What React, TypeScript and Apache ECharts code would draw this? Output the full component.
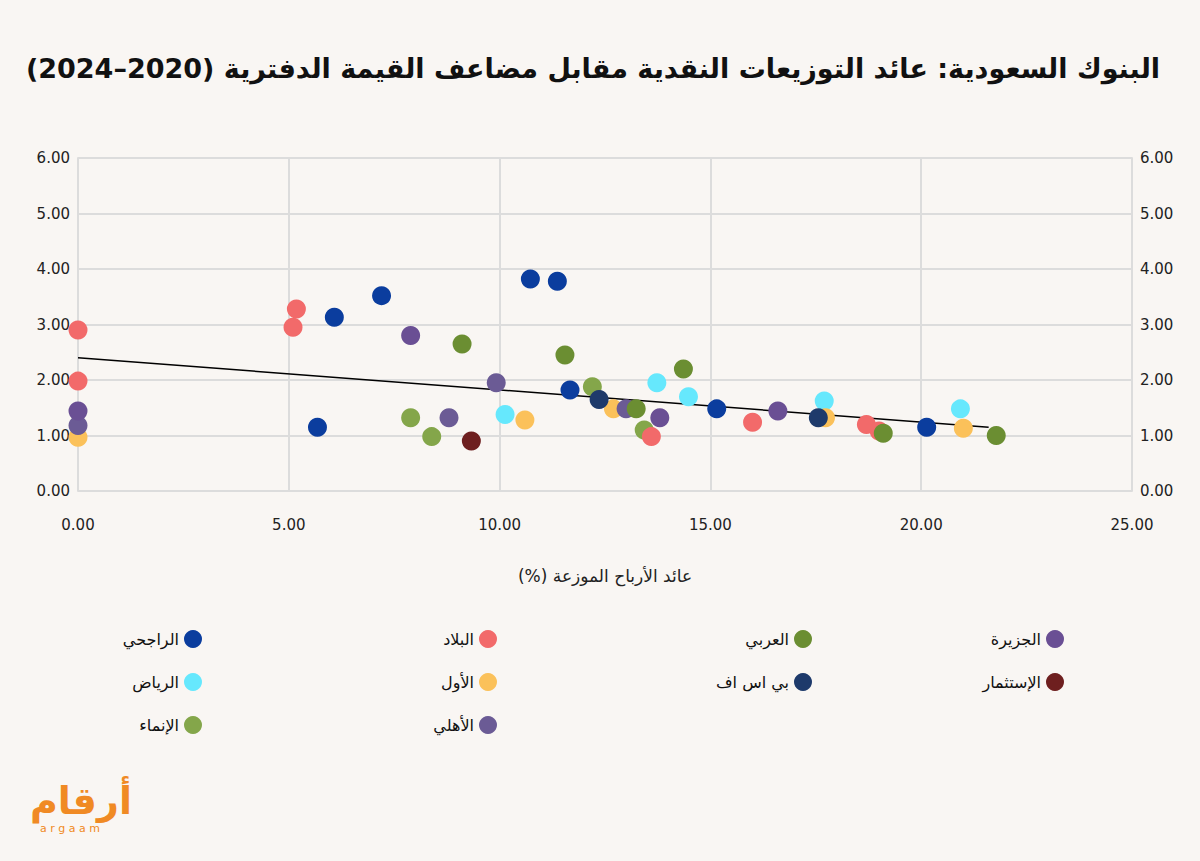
import React, { useEffect, useRef } from "react";
import * as echarts from "echarts";

const banks = ["الراجحي", "الرياض", "الإنماء", "البلاد", "الأول", "الأهلي", "العربي", "بي اس اف", "الجزيرة", "الإستثمار"];
const colors = ["#0b3d9e", "#66e8fd", "#84a64a", "#f26a6a", "#fbc15a", "#6b5b95", "#6b8e32", "#1e3a6b", "#6a4f94", "#6e1f1f"];

// [dividend yield %, price to book]
const rajhi = [[5.68, 1.15], [6.08, 3.13], [7.2, 3.52], [10.73, 3.82], [11.37, 3.78], [11.67, 1.82], [15.15, 1.48], [20.13, 1.15]];
const riyad = [[10.13, 1.38], [13.73, 1.95], [14.48, 1.7], [17.7, 1.62], [20.93, 1.48]];
const inma = [[7.89, 1.32], [8.39, 0.98], [12.2, 1.88], [13.43, 1.1]];
const bilad = [[0, 2.9], [0, 1.98], [5.18, 3.28], [5.1, 2.95], [13.6, 0.98], [16.0, 1.24], [18.7, 1.2], [19.0, 1.08]];
const awwal = [[0, 0.97], [10.6, 1.28], [12.7, 1.48], [17.73, 1.32], [21.0, 1.13]];
const ahli = [[0, 1.18], [8.8, 1.32], [9.92, 1.95], [13.0, 1.48]];
const arabi = [[9.11, 2.65], [11.55, 2.45], [14.36, 2.2], [13.24, 1.48], [19.1, 1.04], [21.78, 1.0]];
const bsf = [[12.36, 1.65], [17.56, 1.32]];
const jazira = [[0, 1.44], [7.89, 2.8], [16.6, 1.44], [13.8, 1.32]];
const istithmar = [[9.33, 0.9]];
const seriesData = [rajhi, riyad, inma, bilad, awwal, ahli, arabi, bsf, jazira, istithmar];

const trend = [[0, 2.4], [21.6, 1.15]];

const legendColumns = [[0, 1, 2], [3, 4, 5], [6, 7], [8, 9]];
const legendRight = [993, 698, 383, 131];

const font = "'DejaVu Sans', 'Noto Sans', sans-serif";
const rlm = "\u200F";

const App: React.FC = () => {
  const chartRef = useRef<HTMLDivElement | null>(null);

  useEffect(() => {
    if (!chartRef.current) return;
    document.body.style.margin = "0";
    const chart = echarts.init(chartRef.current, null, { renderer: "svg" });
    const fmt = (v: number) => v.toFixed(2);
    const axisLabel = { color: "#222", fontSize: 15, fontFamily: font, formatter: fmt };

    chart.setOption({
      animation: false,
      backgroundColor: "#f9f6f3",
      textStyle: { fontFamily: font },
      title: {
        text: rlm + "البنوك السعودية: عائد التوزيعات النقدية مقابل مضاعف القيمة الدفترية (2020–2024)" + rlm,
        right: 35,
        top: 50,
        textStyle: { fontSize: 27, fontWeight: "bold", color: "#111", fontFamily: font },
      },
      legend: legendColumns.map((col, i) => ({
        orient: "vertical",
        right: legendRight[i],
        top: 625,
        align: "right",
        itemWidth: 18,
        itemHeight: 18,
        itemGap: 25,
        icon: "circle",
        data: col.map((k) => banks[k]),
        textStyle: { fontSize: 16, color: "#111", fontFamily: font },
      })),
      grid: { left: 78, right: 68, top: 158, bottom: 370 },
      xAxis: {
        type: "value",
        min: 0,
        max: 25,
        interval: 5,
        name: rlm + "عائد الأرباح الموزعة (%)" + rlm,
        nameLocation: "middle",
        nameGap: 76,
        nameTextStyle: { fontSize: 17, color: "#222", fontFamily: font },
        axisLine: { show: false },
        axisTick: { show: false },
        axisLabel: { ...axisLabel, margin: 26 },
        splitLine: { lineStyle: { color: "#dcdcdc", width: 2 } },
      },
      yAxis: [
        {
          type: "value",
          min: 0,
          max: 6,
          interval: 1,
          position: "left",
          axisLine: { show: true, lineStyle: { color: "#dcdcdc", width: 2 } },
          axisTick: { show: false },
          axisLabel,
          splitLine: { lineStyle: { color: "#dcdcdc", width: 2 } },
        },
        {
          type: "value",
          min: 0,
          max: 6,
          interval: 1,
          position: "right",
          axisLine: { show: true, lineStyle: { color: "#dcdcdc", width: 2 } },
          axisTick: { show: false },
          axisLabel,
          splitLine: { show: false },
        },
      ],
      series: [
        ...seriesData.map((d, i) => ({
          name: banks[i],
          type: "scatter",
          data: d,
          symbolSize: 19,
          itemStyle: { color: colors[i], opacity: 1 },
        })),
        {
          name: "trend",
          type: "line",
          data: trend,
          showSymbol: false,
          symbol: "none",
          lineStyle: { color: "#000", width: 1.5 },
          z: 1,
        },
      ],
      graphic: [
        {
          type: "text",
          left: 30,
          top: 782,
          style: { text: "أرقام", fontSize: 38, fontWeight: "bold", fill: "#f08a24", fontFamily: font },
        },
        {
          type: "text",
          left: 40,
          top: 823,
          style: { text: "a r g a a m", fontSize: 11, fill: "#f08a24", fontFamily: font },
        },
      ],
    });

    return () => chart.dispose();
  }, []);

  return <div ref={chartRef} style={{ width: 1200, height: 861 }} />;
};

export default App;
